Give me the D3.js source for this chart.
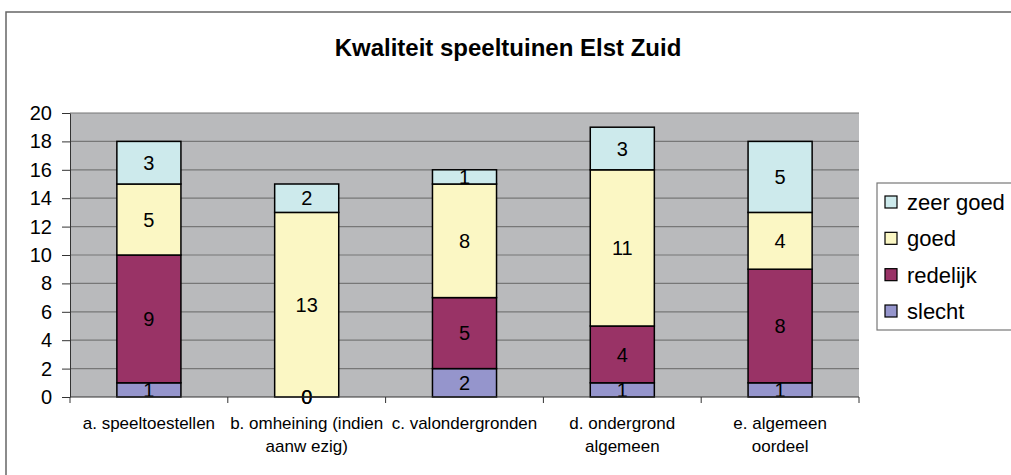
<!DOCTYPE html>
<html>
<head>
<meta charset="utf-8">
<script src="https://cdn.jsdelivr.net/npm/d3@7"></script>
<style>
  body { margin: 0; background: #fff; }
  text { font-family: "Liberation Sans", Arial, sans-serif; }
</style>
</head>
<body>
<svg id="drawing_region"></svg>
<script>
// data
const categories = ["a. speeltoestellen", "b. omheining (indien\naanw ezig)", "c. valondergronden", "d. ondergrond\nalgemeen", "e. algemeen\noordeel"];
const series = ["slecht", "redelijk", "goed", "zeer goed"];
const slecht   = [1, 0, 2, 1, 1];
const redelijk = [9, 0, 5, 4, 8];
const goed     = [5, 13, 8, 11, 4];
const zeerGoed = [3, 2, 1, 3, 5];
const yTicks = [0, 2, 4, 6, 8, 10, 12, 14, 16, 18, 20];
const colors = ["#9595cc", "#993366", "#fbf7c4", "#cdeaec"];

const table = categories.map((c, i) => ({
    cat: c, "slecht": slecht[i], "redelijk": redelijk[i], "goed": goed[i], "zeer goed": zeerGoed[i]
}));

const W = 1011, H = 475;
const plot = {left: 70, right: 859, top: 113, bottom: 397};

const svg = d3.select('#drawing_region')
    .attr('width', W)
    .attr('height', H);

// outer chart frame
svg.append('rect')
    .attr('x', 6).attr('y', 12)
    .attr('width', 1030).attr('height', 500)
    .attr('fill', 'none')
    .attr('stroke', '#666')
    .attr('stroke-width', 1.5);

svg.append('text')
    .attr('x', 508).attr('y', 56)
    .attr('text-anchor', 'middle')
    .attr('font-size', 24)
    .attr('font-weight', 'bold')
    .text('Kwaliteit speeltuinen Elst Zuid');

const xscale = d3.scaleBand()
    .domain(categories)
    .range([plot.left, plot.right])
    .paddingInner(0.594)
    .paddingOuter(0.297);

const yscale = d3.scaleLinear()
    .domain([0, 20])
    .range([plot.bottom, plot.top]);

// plot background
svg.append('rect')
    .attr('x', plot.left).attr('y', plot.top)
    .attr('width', plot.right - plot.left)
    .attr('height', plot.bottom - plot.top)
    .attr('fill', '#b9babc');

// gridlines
svg.append('g').selectAll('line')
    .data(yTicks.filter(d => d > 0))
    .join('line')
    .attr('x1', plot.left).attr('x2', plot.right)
    .attr('y1', d => yscale(d)).attr('y2', d => yscale(d))
    .attr('stroke', '#777')
    .attr('stroke-width', 1.2);

// y axis
const yaxis = d3.axisLeft(yscale)
    .tickValues(yTicks)
    .tickSize(8)
    .tickPadding(10)
    .tickSizeOuter(0);

svg.append('g')
    .attr('transform', `translate(${plot.left},0)`)
    .call(yaxis)
    .call(g => g.select('.domain').attr('stroke', '#333'))
    .call(g => g.selectAll('.tick line').attr('stroke', '#333'))
    .call(g => g.selectAll('.tick text')
        .attr('font-size', 20)
        .attr('fill', '#000')
        .attr('font-family', '"Liberation Sans", Arial, sans-serif'));

// stacked bars
const stack = d3.stack().keys(series)(table);

const layers = svg.append('g').selectAll('g')
    .data(stack)
    .join('g')
    .attr('fill', (d, i) => colors[i]);

layers.selectAll('rect')
    .data(d => d)
    .join('rect')
    .attr('x', d => xscale(d.data.cat))
    .attr('y', d => yscale(d[1]))
    .attr('width', xscale.bandwidth())
    .attr('height', d => yscale(d[0]) - yscale(d[1]))
    .attr('stroke', '#000')
    .attr('stroke-width', 1.5);

// value labels
const labels = svg.append('g');
stack.forEach(layer => {
    layer.forEach(d => {
        labels.append('text')
            .attr('x', xscale(d.data.cat) + xscale.bandwidth() / 2)
            .attr('y', (yscale(d[0]) + yscale(d[1])) / 2)
            .attr('dy', '0.36em')
            .attr('text-anchor', 'middle')
            .attr('font-size', 20)
            .text(d.data[layer.key]);
    });
});

// x axis, ticks between categories
const bounds = d3.range(categories.length + 1)
    .map(i => plot.left + i * xscale.step());

const xg = svg.append('g');
xg.append('line')
    .attr('x1', plot.left).attr('x2', plot.right)
    .attr('y1', plot.bottom).attr('y2', plot.bottom)
    .attr('stroke', '#333');
xg.selectAll('.tk')
    .data(bounds)
    .join('line')
    .attr('class', 'tk')
    .attr('x1', d => d).attr('x2', d => d)
    .attr('y1', plot.bottom).attr('y2', plot.bottom + 6)
    .attr('stroke', '#333');

xg.selectAll('.cat')
    .data(categories)
    .join('text')
    .attr('class', 'cat')
    .attr('text-anchor', 'middle')
    .attr('font-size', 17)
    .each(function(c) {
        const t = d3.select(this);
        c.split('\n').forEach((ln, i) => {
            t.append('tspan')
                .attr('x', xscale(c) + xscale.bandwidth() / 2)
                .attr('y', 429 + i * 23)
                .text(ln);
        });
    });

// legend
const legend = svg.append('g');
legend.append('rect')
    .attr('x', 877).attr('y', 183)
    .attr('width', 200).attr('height', 147)
    .attr('fill', '#fff')
    .attr('stroke', '#777')
    .attr('stroke-width', 1.2);

const legendKeys = series.slice().reverse();
const ly = d3.scalePoint().domain(legendKeys).range([202, 311]);

legend.selectAll('.sw')
    .data(legendKeys)
    .join('rect')
    .attr('class', 'sw')
    .attr('x', 885).attr('y', d => ly(d) - 6)
    .attr('width', 12).attr('height', 12)
    .attr('fill', d => colors[series.indexOf(d)])
    .attr('stroke', '#000')
    .attr('stroke-width', 1.2);

legend.selectAll('.lt')
    .data(legendKeys)
    .join('text')
    .attr('class', 'lt')
    .attr('x', 907).attr('y', d => ly(d))
    .attr('dy', '0.36em')
    .attr('font-size', 22)
    .text(d => d);
</script>
</body>
</html>
